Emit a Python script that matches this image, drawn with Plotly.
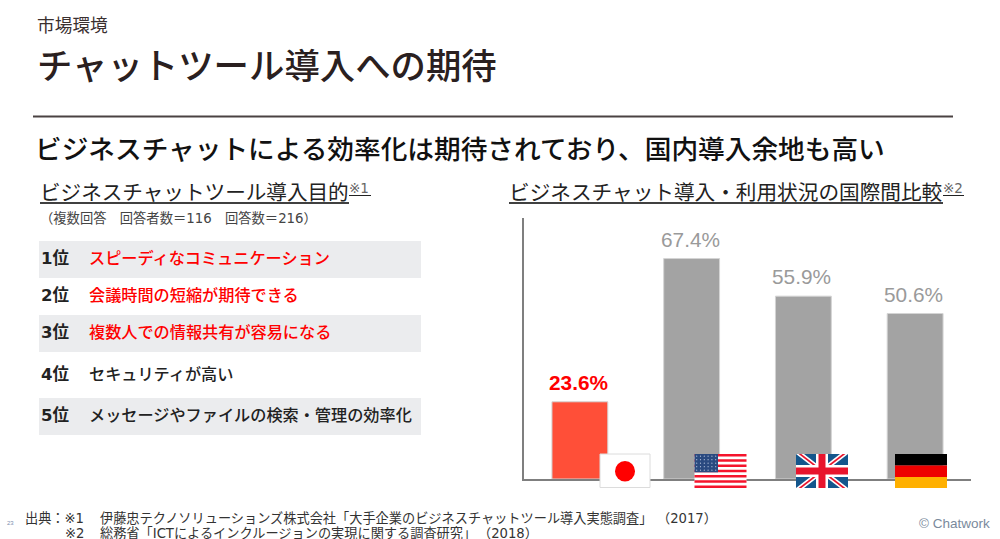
import plotly.graph_objects as go

W, H = 1000, 539
JP = "DejaVu Sans, Noto Sans CJK JP"
LAT = "Liberation Sans"

countries = ["日本", "米国", "英国", "ドイツ"]
usage = [23.6, 67.4, 55.9, 50.6]
usage_labels = ["23.6%", "67.4%", "55.9%", "50.6%"]
bar_colors = ["#ff4f38", "#a3a3a3", "#a3a3a3", "#a3a3a3"]
label_colors = ["#ff0000", "#9a9a9a", "#9a9a9a", "#9a9a9a"]

ranks = ["1位", "2位", "3位", "4位", "5位"]
purposes = ["スピーディなコミュニケーション", "会議時間の短縮が期待できる", "複数人での情報共有が容易になる",
            "セキュリティが高い", "メッセージやファイルの検索・管理の効率化"]
purpose_colors = ["#ff0000", "#ff0000", "#ff0000", "#222222", "#222222"]
row_y = [258, 295.5, 332, 374, 415]


def px(x):
    return x / W


def py(y):
    return 1 - y / H


shapes = []
annotations = []


def rect(x0, y0, x1, y1, fill, line=None, lw=0):
    shapes.append(dict(type="rect", xref="paper", yref="paper", x0=px(x0), x1=px(x1), y0=py(y0), y1=py(y1),
                       fillcolor=fill, line=dict(color=line or fill, width=lw), layer="above"))


def hline(x0, x1, y, color, lw):
    shapes.append(dict(type="line", xref="paper", yref="paper", x0=px(x0), x1=px(x1), y0=py(y), y1=py(y),
                       line=dict(color=color, width=lw), layer="above"))


def poly(pts, fill):
    d = "M " + " L ".join(f"{px(a):.5f} {py(b):.5f}" for a, b in pts) + " Z"
    shapes.append(dict(type="path", xref="paper", yref="paper", path=d, fillcolor=fill,
                       line=dict(width=0), layer="above"))


def text(x, y, s, size, color="#222222", family=JP, weight=None, anchor="left"):
    f = dict(size=size, color=color, family=family)
    if weight:
        f["weight"] = weight
    annotations.append(dict(xref="paper", yref="paper", x=px(x), y=py(y), text=s, showarrow=False,
                            xanchor=anchor, yanchor="middle", align=anchor, font=f, borderpad=0, borderwidth=0))


# header
text(37, 26, "市場環境", 17.7, "#3a3030")
text(37, 66, "チャットツール導入への期待", 35.4, "#2a2020", weight=500)
hline(33, 953, 116.5, "#4a4242", 2)
text(35, 149.5, "ビジネスチャットによる効率化は期待されており、国内導入余地も高い", 26.68, "#111111", weight=500)

# section headers
text(40, 193, "ビジネスチャットツール導入目的", 20.6, "#222222")
text(349, 188, "※1", 13.5, "#666666")
hline(40, 349, 203, "#000000", 1.6)
hline(349, 371, 195.5, "#222222", 1)
text(509, 193, "ビジネスチャット導入・利用状況の国際間比較", 20.65, "#222222")
text(943, 188, "※2", 13.5, "#666666")
hline(509, 943, 203, "#000000", 1.6)
hline(943, 964, 195.5, "#222222", 1)
text(40, 218, "（複数回答　回答者数＝116　回答数＝216）", 13.3, "#444444")

# ranking rows
for y0 in (241, 315, 398):
    rect(39, y0, 421, y0 + 37, "#ebecee")
for r, p, c, y in zip(ranks, purposes, purpose_colors, row_y):
    text(41, y, r, 16.5, "#222222", weight=700)
    text(89, y, p, 16.17, c, weight=500)

# footer
text(7, 523, "23", 6, "#7f8fb0", family=LAT)
text(25, 518, "出典：※1", 13.2, "#333333")
text(100, 518, "伊藤忠テクノソリューションズ株式会社「大手企業のビジネスチャットツール導入実態調査」", 13.2, "#333333")
text(656.5, 518, "（2017）", 13.2, "#333333")
text(65, 533, "※2", 13.2, "#333333")
text(100, 533, "総務省「ICTによるインクルージョンの実現に関する調査研究」", 13.2, "#333333")
text(477.5, 533, "（2018）", 13.2, "#333333")
text(919, 523, "© Chatwork", 13.5, "#7a8a9c", family=LAT)

# flags: Japan
rect(600, 454, 650, 487.5, "#ffffff", "#dcdcdc", 1)
shapes.append(dict(type="circle", xref="paper", yref="paper", x0=px(615), x1=px(635), y0=py(461), y1=py(481.5),
                   fillcolor="#ff0000", line=dict(width=0), layer="above"))

# flags: USA
fx0, fx1, fy0, fy1 = 694.5, 746.5, 454, 488
rect(fx0, fy0, fx1, fy1, "#ffffff")
sh = (fy1 - fy0) / 13
for i in range(0, 13, 2):
    rect(fx0, fy0 + i * sh, fx1, fy0 + (i + 1) * sh, "#f5142c")
rect(fx0, fy0, 718, fy0 + 7 * sh, "#2a4a80")
for row in range(5):
    for col in range(6):
        cx = fx0 + 2.2 + col * 3.8
        cy = fy0 + 2.2 + row * 3.5
        shapes.append(dict(type="circle", xref="paper", yref="paper", x0=px(cx - .6), x1=px(cx + .6),
                           y0=py(cy - .6), y1=py(cy + .6), fillcolor="#b5c3dc", line=dict(width=0), layer="above"))

# flags: UK
ux0, ux1, uy0, uy1 = 796, 848, 454, 488
ucx, ucy = (ux0 + ux1) / 2, (uy0 + uy1) / 2
rect(ux0, uy0, ux1, uy1, "#14568c")


def diag(xa, ya, xb, yb, hw, color):
    poly([(xa - hw, ya), (xa + hw, ya), (xb + hw, yb), (xb - hw, yb)], color)


diag(ux0 + 4, uy0, ux1 - 4, uy1, 4, "#ffffff")
diag(ux1 - 4, uy0, ux0 + 4, uy1, 4, "#ffffff")
diag(ux0 + 4, uy0, ux1 - 4, uy1, 1.4, "#e8142c")
diag(ux1 - 4, uy0, ux0 + 4, uy1, 1.4, "#e8142c")
rect(ucx - 6, uy0, ucx + 6, uy1, "#ffffff")
rect(ux0, ucy - 6, ux1, ucy + 6, "#ffffff")
rect(ucx - 3.5, uy0, ucx + 3.5, uy1, "#e8142c")
rect(ux0, ucy - 3.5, ux1, ucy + 3.5, "#e8142c")

# flags: Germany
rect(895, 454, 947, 465.5, "#000000")
rect(895, 465.5, 947, 477, "#ee0000")
rect(895, 477, 947, 488, "#ffb000")

# value labels tied to the data axes
for i, (c, v, s, col) in enumerate(zip(countries, usage, usage_labels, label_colors)):
    annotations.append(dict(xref="x", yref="y", x=c, y=v, text=s, showarrow=False, xanchor="center",
                            yanchor="bottom", yshift=6, xshift=-1.5,
                            font=dict(family=LAT, size=20.8, color=col, weight=700 if i == 0 else 400)))

fig = go.Figure(go.Bar(x=countries, y=usage, width=0.5, marker=dict(color=bar_colors,
                       line=dict(color="#d4d4d4", width=1)), hoverinfo="x+y"))
fig.update_layout(
    width=W, height=H, autosize=False, margin=dict(l=0, r=0, t=0, b=0),
    paper_bgcolor="#ffffff", plot_bgcolor="#ffffff", showlegend=False,
    font=dict(family=JP),
    xaxis=dict(domain=[px(524), px(971)], range=[-0.5, 3.5], type="category", showticklabels=False, ticks="",
               showgrid=False, showline=True, linecolor="#7f7f7f", linewidth=2, zeroline=False, fixedrange=True),
    yaxis=dict(domain=[py(479), py(218)], range=[0, 79.8], showticklabels=False, ticks="",
               showgrid=False, showline=True, linecolor="#7f7f7f", linewidth=2, zeroline=False, fixedrange=True),
    shapes=shapes, annotations=annotations,
)
fig.write_html("out.html", config=dict(displayModeBar=False),
               post_script="document.body.style.margin='0';document.documentElement.style.overflow='hidden';")
